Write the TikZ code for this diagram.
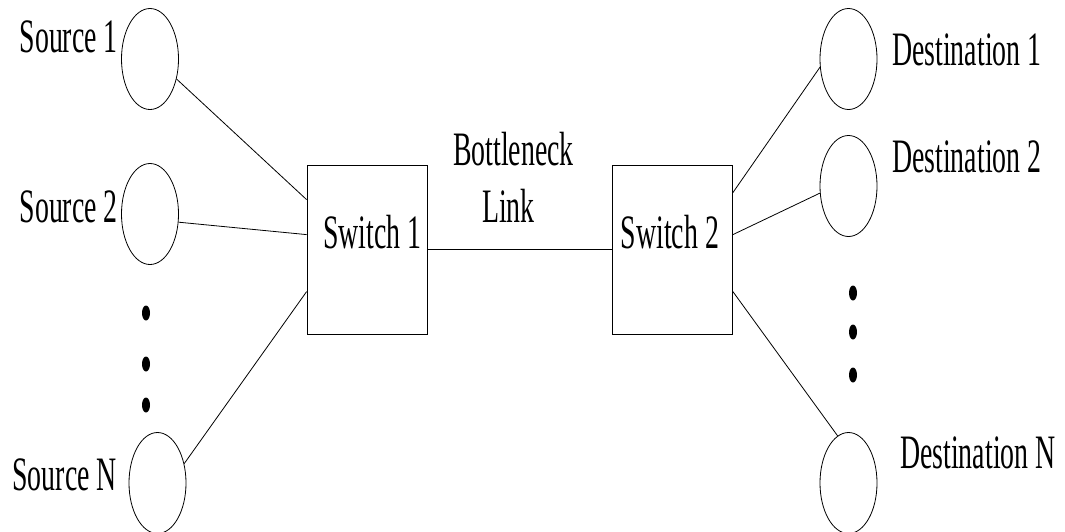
\documentclass[tikz,border=0pt]{standalone}
\usepackage{fontspec}
\setmainfont{Liberation Serif}[FakeStretch=0.58]
\usetikzlibrary{shapes.geometric,calc}
\begin{document}
\begin{tikzpicture}[x=1pt,y=-1pt,
  txt/.style={inner sep=0pt,font=\fontsize{48}{57}\selectfont},
  host/.style={draw,ellipse,line width=0.8pt,minimum width=57pt,minimum height=101pt,inner sep=0pt},
  switchbox/.style={draw,rectangle,line width=0.8pt,minimum width=120pt,minimum height=169pt,inner sep=0pt},
  dotmark/.style={fill,ellipse,minimum width=8pt,minimum height=15pt,inner sep=0pt},
  link/.style={line width=0.8pt}]
\useasboundingbox (0,0) rectangle (1065,531);
\clip (0,0) rectangle (1065,531);
% switches
\node[switchbox] (sw1) at (367,249.5) {};
\node[switchbox] (sw2) at (672.5,249.5) {};
\node[txt,anchor=base] (sw1t) at (372.5,248) {Switch 1};
\node[txt,anchor=base] (sw2t) at (670,248) {Switch 2};
\node[txt,anchor=base] (blt) at (513.5,165) {Bottleneck};
\node[txt,anchor=base] (lnk) at (508.5,222) {Link};
% sources
\node[host] (s1) at (150,59) {};
\node[host] (s2) at (150,214) {};
\node[host] (sn) at (157.5,483) {};
\node[txt,anchor=base east] (s1t) at (118,52) {Source 1};
\node[txt,anchor=base east] (s2t) at (118,222) {Source 2};
\node[txt,anchor=base east] (snt) at (117,490) {Source N};
\node[dotmark] (sd1) at (146,313) {};
\node[dotmark] (sd2) at (146,364) {};
\node[dotmark] (sd3) at (146,405) {};
% destinations
\node[host] (d1) at (848.5,59) {};
\node[host] (d2) at (848.5,186) {};
\node[host] (dn) at (848.5,483) {};
\node[txt,anchor=base west] (d1t) at (892,65) {Destination 1};
\node[txt,anchor=base west] (d2t) at (892,172) {Destination 2};
\node[txt,anchor=base west] (dnt) at (900,468) {Destination N};
\node[dotmark] (dd1) at (853,293) {};
\node[dotmark] (dd2) at (853,332) {};
\node[dotmark] (dd3) at (853,375) {};
% attachment points on switches
\coordinate (a1) at ($(sw1.north west)+(0,35)$);
\coordinate (a2) at ($(sw1.north west)+(0,70)$);
\coordinate (a3) at ($(sw1.north west)+(0,127)$);
\coordinate (b1) at ($(sw2.north east)+(0,28)$);
\coordinate (b2) at ($(sw2.north east)+(0,70)$);
\coordinate (b3) at ($(sw2.north east)+(0,127)$);
% connectors
\draw[link] (s1.-37) -- (a1);
\draw[link] (s2.-16) -- (a2);
\draw[link] (sn.36) -- (a3);
\draw[link] (sw1.east) -- (sw2.west);
\draw[link] (b1) -- (d1.196);
\draw[link] (b2) -- (d2.194);
\draw[link] (b3) -- (dn.103);
\end{tikzpicture}
\end{document}
